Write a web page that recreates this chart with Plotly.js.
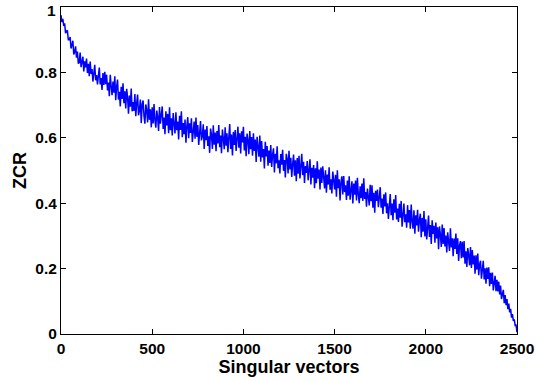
<!DOCTYPE html>
<html>
<head>
<meta charset="utf-8">
<script src="https://cdn.plot.ly/plotly-3.0.1.min.js"></script>
<style>html,body{margin:0;padding:0;background:#fff;}#chart{width:536px;height:381px;}</style>
</head>
<body>
<div id="chart"></div>
<script>
// ZCR of singular vectors, read every 5 vectors (index 0 .. 2500)
const xStep = 5;
const zcr = [
0.975,0.954,0.964,0.942,0.950,0.920,0.925,0.929,0.900,0.900,
0.908,0.873,0.884,0.897,0.855,0.862,0.880,0.845,0.864,0.827,
0.830,0.861,0.816,0.837,0.848,0.803,0.834,0.815,0.842,0.798,
0.826,0.788,0.833,0.795,0.810,0.772,0.813,0.823,0.776,0.792,
0.763,0.795,0.815,0.763,0.783,0.746,0.798,0.762,0.802,0.764,
0.793,0.745,0.769,0.727,0.793,0.758,0.730,0.772,0.738,0.788,
0.715,0.756,0.778,0.717,0.741,0.696,0.756,0.719,0.767,0.706,
0.742,0.690,0.750,0.724,0.674,0.729,0.695,0.751,0.681,0.709,
0.682,0.734,0.666,0.706,0.732,0.669,0.683,0.717,0.645,0.703,
0.714,0.667,0.643,0.702,0.683,0.647,0.718,0.655,0.687,0.632,
0.693,0.644,0.703,0.654,0.631,0.683,0.664,0.621,0.694,0.643,
0.673,0.696,0.627,0.662,0.611,0.681,0.638,0.673,0.614,0.693,
0.623,0.660,0.607,0.676,0.643,0.613,0.678,0.623,0.650,0.595,
0.667,0.624,0.681,0.602,0.645,0.611,0.656,0.585,0.636,0.663,
0.599,0.644,0.615,0.660,0.587,0.627,0.650,0.597,0.662,0.603,
0.639,0.578,0.626,0.651,0.592,0.605,0.641,0.566,0.625,0.593,
0.636,0.575,0.605,0.554,0.628,0.609,0.566,0.638,0.579,0.616,
0.559,0.621,0.583,0.639,0.571,0.607,0.553,0.625,0.597,0.565,
0.632,0.576,0.614,0.556,0.600,0.642,0.566,0.610,0.546,0.618,
0.578,0.624,0.560,0.602,0.634,0.570,0.614,0.552,0.620,0.586,
0.634,0.561,0.603,0.544,0.613,0.593,0.550,0.621,0.565,0.602,
0.545,0.614,0.560,0.595,0.526,0.603,0.571,0.542,0.607,0.527,
0.590,0.540,0.566,0.506,0.588,0.543,0.575,0.515,0.561,0.523,
0.578,0.511,0.549,0.568,0.494,0.551,0.522,0.574,0.507,0.531,
0.491,0.550,0.518,0.563,0.499,0.532,0.479,0.551,0.536,0.491,
0.560,0.503,0.539,0.480,0.519,0.549,0.484,0.531,0.467,0.538,
0.490,0.545,0.476,0.516,0.551,0.486,0.527,0.462,0.514,0.493,
0.529,0.470,0.503,0.534,0.457,0.508,0.478,0.517,0.446,0.507,
0.461,0.528,0.475,0.503,0.442,0.509,0.462,0.513,0.480,0.445,
0.501,0.432,0.488,0.457,0.510,0.441,0.473,0.430,0.497,0.457,
0.442,0.487,0.420,0.501,0.446,0.473,0.408,0.465,0.482,0.427,
0.483,0.434,0.455,0.410,0.469,0.423,0.482,0.411,0.446,0.467,
0.399,0.460,0.426,0.469,0.408,0.478,0.427,0.400,0.452,0.415,
0.460,0.407,0.476,0.413,0.434,0.389,0.445,0.424,0.393,0.456,
0.406,0.455,0.386,0.432,0.371,0.438,0.407,0.442,0.388,0.417,
0.449,0.386,0.414,0.367,0.427,0.390,0.433,0.369,0.400,0.352,
0.410,0.428,0.363,0.399,0.348,0.412,0.371,0.425,0.350,0.384,
0.343,0.398,0.356,0.407,0.328,0.382,0.399,0.342,0.366,0.325,
0.394,0.341,0.379,0.322,0.396,0.345,0.322,0.378,0.307,0.363,
0.332,0.380,0.313,0.349,0.368,0.296,0.355,0.313,0.376,0.298,
0.351,0.289,0.330,0.362,0.297,0.333,0.275,0.348,0.306,0.331,
0.279,0.341,0.292,0.326,0.259,0.329,0.304,0.266,0.335,0.275,
0.324,0.268,0.301,0.249,0.311,0.286,0.254,0.323,0.265,0.293,
0.238,0.292,0.260,0.307,0.245,0.293,0.223,0.271,0.284,0.232,
0.282,0.234,0.284,0.215,0.253,0.205,0.263,0.241,0.210,0.266,
0.202,0.257,0.213,0.240,0.184,0.241,0.197,0.246,0.180,0.213,
0.224,0.169,0.205,0.224,0.167,0.201,0.154,0.203,0.168,0.204,
0.146,0.187,0.153,0.188,0.133,0.165,0.178,0.131,0.166,0.130,
0.160,0.121,0.148,0.107,0.130,0.135,0.094,0.119,0.088,0.107,
0.076,0.093,0.066,0.077,0.050,0.061,0.040,0.045,0.026,0.027,
0.005
];
const xTicks = [0, 500, 1000, 1500, 2000, 2500];
const xTickText = ["0", "500", "1000", "1500", "2000", "2500"];
const yTicks = [0, 0.2, 0.4, 0.6, 0.8, 1];
const yTickText = ["0", "0.2", "0.4", "0.6", "0.8", "1"];
const xTitle = "Singular vectors";
const yTitle = "ZCR";

const xs = zcr.map((_, i) => i * xStep);
const fontFam = "Liberation Sans, Arial, Helvetica, sans-serif";
const tickFont = {family: fontFam, size: 15.5, color: "#000", weight: "bold"};

// the top label ("1") sits at the very top edge; draw it as an annotation nudged inside the page
const topIdx = yTicks.length - 1;
const yTickTextShown = yTickText.map((t, i) => i === topIdx ? "" : t);

const trace = {
  x: xs, y: zcr, type: "scatter", mode: "lines",
  line: {color: "#0000ff", width: 1.5},
  hoverinfo: "skip"
};

const axisCommon = {
  showgrid: false, zeroline: false, showline: true, linecolor: "#000", linewidth: 1,
  mirror: "ticks", ticks: "inside", ticklen: 5, tickwidth: 1, tickcolor: "#000",
  tickfont: tickFont
};

const layout = {
  width: 536, height: 381,
  margin: {l: 61, r: 19, t: 7, b: 47, pad: 0},
  paper_bgcolor: "#fff", plot_bgcolor: "#fff",
  showlegend: false,
  xaxis: Object.assign({}, axisCommon, {
    range: [0, 2500], tickmode: "array", tickvals: xTicks, ticktext: xTickText,
    title: {text: xTitle, font: {family: fontFam, size: 18, color: "#000", weight: "bold"}, standoff: 2}
  }),
  yaxis: Object.assign({}, axisCommon, {
    range: [0, 1], tickmode: "array", tickvals: yTicks, ticktext: yTickTextShown,
    title: {text: yTitle, font: {family: fontFam, size: 18, color: "#000", weight: "bold"}, standoff: 4}
  }),
  annotations: [{
    text: yTickText[topIdx], xref: "paper", yref: "y", x: 0, y: yTicks[topIdx],
    xanchor: "right", yanchor: "top", xshift: -4, yshift: 6,
    showarrow: false, font: tickFont, borderpad: 0
  }]
};

Plotly.newPlot("chart", [trace], layout, {staticPlot: true, displayModeBar: false});
</script>
</body>
</html>
